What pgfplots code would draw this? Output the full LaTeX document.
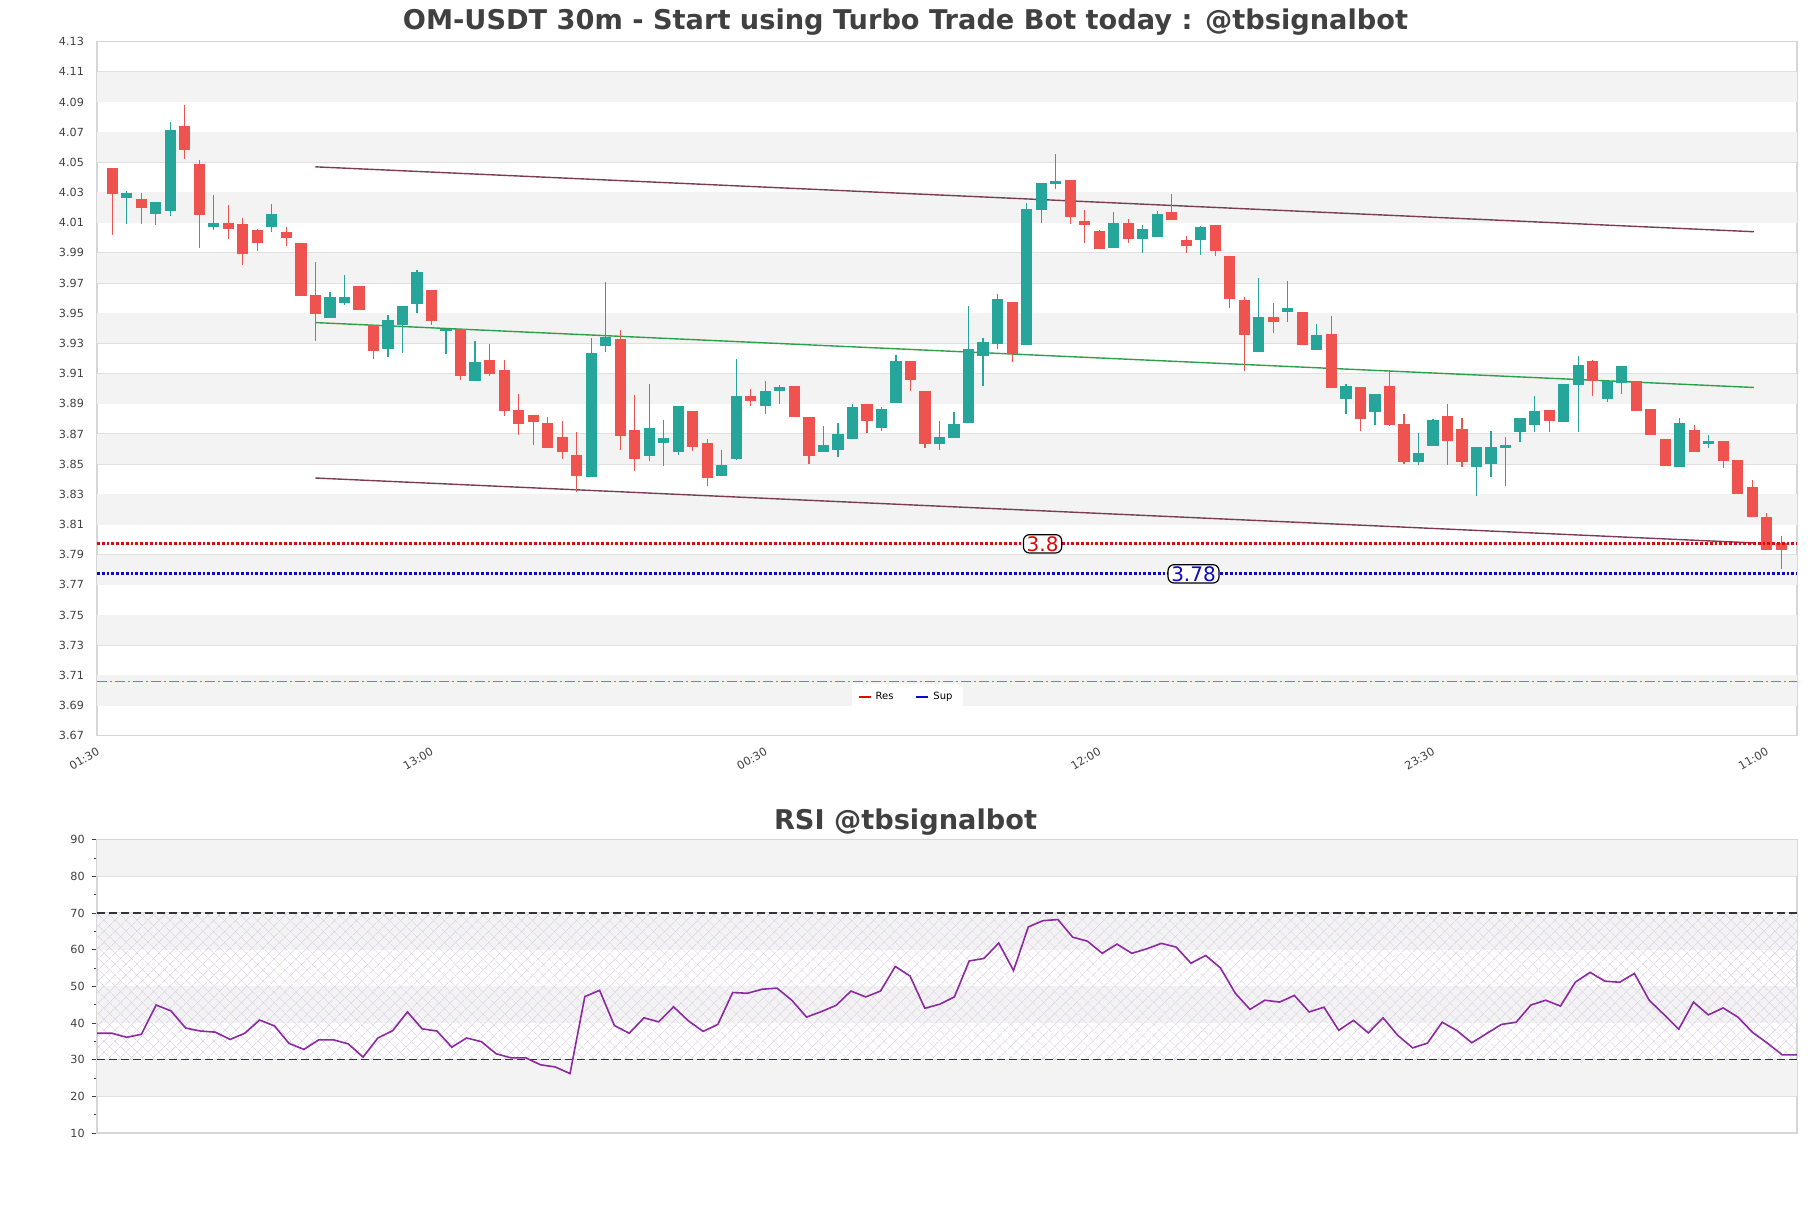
\documentclass[border=0pt]{standalone}
\usepackage{fontspec}
\setmainfont{DejaVu Sans}
\usepackage{pgfplots}
\usepackage{pgfplotstable}
\pgfplotsset{compat=1.18}
\usetikzlibrary{patterns.meta}

\definecolor{upc}{RGB}{38,166,154}
\definecolor{dnc}{RGB}{239,83,80}
\definecolor{band}{RGB}{243,243,243}
\definecolor{gridc}{RGB}{224,224,224}
\definecolor{framec}{RGB}{214,214,214}
\definecolor{txt}{RGB}{64,64,64}
\definecolor{trend}{RGB}{125,60,85}
\definecolor{midtr}{RGB}{45,160,75}
\definecolor{rsic}{RGB}{140,40,160}
\definecolor{cyanl}{RGB}{30,165,215}
\definecolor{resc}{RGB}{220,10,10}
\definecolor{supc}{RGB}{10,10,200}
\definecolor{hatchc}{RGB}{212,200,225}

\newcommand\tickfont{\fontsize{5.6}{6.5}\selectfont}

% up (green) candles: index open high low close
\pgfplotstableread{
x o h l c
2 4.0263 4.0313 4.0091 4.0294
4 4.0157 4.0238 4.0084 4.0238
5 4.0177 4.0770 4.0141 4.0717
8 4.0071 4.0285 4.0051 4.0100
12 4.0071 4.0225 4.0038 4.0159
16 3.9469 3.9643 3.9469 3.9610
17 3.9568 3.9751 3.9553 3.9610
20 3.9264 3.9489 3.9211 3.9454
21 3.9423 3.9546 3.9237 3.9546
22 3.9562 3.9784 3.9502 3.9771
24 3.9385 3.9398 3.9229 3.9398
26 3.9052 3.9319 3.9052 3.9180
34 3.8418 3.9334 3.8418 3.9235
35 3.9284 3.9705 3.9244 3.9343
38 3.8556 3.9030 3.8523 3.8739
39 3.8642 3.8792 3.8490 3.8673
40 3.8583 3.8885 3.8563 3.8885
43 3.8424 3.8594 3.8424 3.8494
44 3.8534 3.9196 3.8530 3.8951
46 3.8887 3.9050 3.8834 3.8984
47 3.8986 3.9023 3.8898 3.9008
50 3.8583 3.8750 3.8583 3.8627
51 3.8596 3.8772 3.8549 3.8700
52 3.8669 3.8900 3.8669 3.8878
54 3.8739 3.8878 3.8721 3.8865
55 3.8907 3.9222 3.8907 3.9182
58 3.8635 3.8783 3.8596 3.8679
59 3.8675 3.8847 3.8675 3.8765
60 3.8770 3.9546 3.8770 3.9262
61 3.9218 3.9334 3.9015 3.9312
62 3.9295 3.9626 3.9266 3.9592
64 3.9290 4.0232 3.9290 4.0188
65 4.0183 4.0360 4.0097 4.0360
66 4.0355 4.0558 4.0324 4.0373
70 3.9930 4.0172 3.9930 4.0100
72 3.9989 4.0082 3.9897 4.0060
73 4.0005 4.0175 4.0005 4.0159
76 3.9985 4.0078 3.9886 4.0069
80 3.9244 3.9731 3.9244 3.9473
82 3.9509 3.9711 3.9442 3.9535
84 3.9257 3.9427 3.9257 3.9354
86 3.8935 3.9034 3.8831 3.9016
88 3.8846 3.8963 3.8760 3.8963
91 3.8512 3.8706 3.8497 3.8574
92 3.8622 3.8799 3.8622 3.8792
95 3.8484 3.8612 3.8292 3.8612
96 3.8501 3.8717 3.8413 3.8611
97 3.8609 3.8680 3.8358 3.8627
98 3.8715 3.8809 3.8649 3.8805
99 3.8761 3.8951 3.8715 3.8852
101 3.8777 3.9030 3.8777 3.9030
102 3.9026 3.9215 3.8715 3.9156
104 3.8933 3.9052 3.8913 3.9052
105 3.9039 3.9149 3.8966 3.9149
109 3.8483 3.8809 3.8483 3.8772
111 3.8633 3.8695 3.8607 3.8655
}\upcandles

% down (red) candles
\pgfplotstableread{
x o h l c
1 4.0463 4.0463 4.0018 4.0291
3 4.0254 4.0294 4.0091 4.0197
6 4.0743 4.0882 4.0525 4.0580
7 4.0492 4.0516 3.9932 4.0150
9 4.0100 4.0214 3.9989 4.0058
10 4.0089 4.0128 3.9820 3.9892
11 4.0049 4.0060 3.9912 3.9965
13 4.0040 4.0069 3.9945 3.9998
14 3.9967 3.9967 3.9614 3.9614
15 3.9623 3.9842 3.9317 3.9495
18 3.9678 3.9678 3.9522 3.9522
19 3.9423 3.9423 3.9196 3.9251
23 3.9652 3.9652 3.9423 3.9450
25 3.9398 3.9398 3.9059 3.9081
27 3.9193 3.9293 3.9081 3.9096
28 3.9121 3.9187 3.8821 3.8854
29 3.8856 3.8968 3.8695 3.8768
30 3.8823 3.8823 3.8629 3.8777
31 3.8772 3.8814 3.8609 3.8609
32 3.8677 3.8783 3.8536 3.8583
33 3.8561 3.8715 3.8313 3.8424
36 3.9328 3.9387 3.8596 3.8689
37 3.8726 3.8960 3.8457 3.8536
41 3.8852 3.8852 3.8589 3.8616
42 3.8640 3.8666 3.8358 3.8411
45 3.8949 3.8997 3.8887 3.8920
48 3.9017 3.9017 3.8814 3.8814
49 3.8810 3.8810 3.8500 3.8556
53 3.8898 3.8898 3.8704 3.8788
56 3.9182 3.9182 3.8986 3.9057
57 3.8984 3.8984 3.8607 3.8635
63 3.9573 3.9573 3.9178 3.9229
67 4.0380 4.0380 4.0091 4.0137
68 4.0111 4.0183 3.9965 4.0084
69 4.0042 4.0051 3.9923 3.9923
71 4.0100 4.0122 3.9963 3.9989
74 4.0172 4.0287 4.0117 4.0117
75 3.9987 4.0009 3.9897 3.9945
77 4.0082 4.0082 3.9879 3.9910
78 3.9877 3.9877 3.9533 3.9592
79 3.9586 3.9606 3.9118 3.9354
81 3.9473 3.9566 3.9368 3.9442
83 3.9506 3.9506 3.9290 3.9290
85 3.9361 3.9480 3.9006 3.9006
87 3.9012 3.9012 3.8721 3.8798
89 3.9017 3.9125 3.8750 3.8761
90 3.8765 3.8832 3.8500 3.8512
93 3.8816 3.8898 3.8497 3.8651
94 3.8733 3.8806 3.8484 3.8513
100 3.8858 3.8858 3.8715 3.8788
103 3.9182 3.9189 3.8949 3.9052
106 3.9054 3.9054 3.8854 3.8854
107 3.8863 3.8863 3.8690 3.8690
108 3.8666 3.8666 3.8490 3.8490
110 3.8726 3.8759 3.8578 3.8583
112 3.8655 3.8655 3.8472 3.8523
113 3.8530 3.8530 3.8303 3.8303
114 3.8351 3.8397 3.8153 3.8153
115 3.8153 3.8177 3.7934 3.7934
116 3.7978 3.8027 3.7802 3.7934
}\dncandles

% RSI, one value per bar
\pgfplotstableread{
j rsi
0 37.2
1 37.2
2 36.1
3 36.9
4 44.9
5 43.3
6 38.6
7 37.8
8 37.5
9 35.5
10 37.2
11 40.8
12 39.2
13 34.4
14 32.8
15 35.4
16 35.4
17 34.3
18 30.7
19 35.9
20 37.9
21 43.0
22 38.4
23 37.8
24 33.4
25 35.9
26 34.9
27 31.6
28 30.5
29 30.5
30 28.6
31 28.0
32 26.2
33 47.2
34 48.9
35 39.3
36 37.2
37 41.4
38 40.3
39 44.4
40 40.6
41 37.7
42 39.6
43 48.3
44 48.1
45 49.2
46 49.5
47 46.2
48 41.6
49 43.1
50 44.8
51 48.7
52 47.1
53 48.7
54 55.4
55 52.8
56 44.0
57 45.1
58 47.1
59 56.9
60 57.6
61 61.8
62 54.3
63 66.2
64 67.9
65 68.2
66 63.4
67 62.3
68 59.0
69 61.5
70 59.0
71 60.2
72 61.7
73 60.7
74 56.3
75 58.4
76 55.0
77 48.1
78 43.7
79 46.2
80 45.7
81 47.5
82 43.0
83 44.3
84 38.0
85 40.7
86 37.3
87 41.4
88 36.6
89 33.2
90 34.5
91 40.2
92 37.9
93 34.6
94 37.1
95 39.6
96 40.2
97 44.9
98 46.2
99 44.6
100 51.1
101 53.8
102 51.4
103 51.1
104 53.5
105 46.2
106 42.3
107 38.3
108 45.7
109 42.2
110 44.1
111 41.6
112 37.4
113 34.5
114 31.3
115 31.3
}\rsidata

\pgfplotsset{
  wick/.style={only marks, mark=*, mark size=0pt, mark options={draw=none, fill=none}, forget plot,
    error bars/.cd, y dir=both, y explicit, error mark=none,
    error bar style={line width=0.6pt, #1}},
  body/.style={only marks, mark=*, mark size=0pt, mark options={draw=none, fill=none}, forget plot,
    error bars/.cd, y dir=both, y explicit, error mark=none,
    error bar style={line width=5.6pt, #1}},
}

\begin{document}
\begin{tikzpicture}
\path (0,0) rectangle (905.5pt,604pt);

\node[font=\fontsize{13.6}{15}\selectfont\bfseries, text=txt] at (452.75pt,593pt)
  {OM-USDT 30m - Start using Turbo Trade Bot today : @tbsignalbot};

\begin{axis}[
    set layers,
    at={(48.5pt,236.1pt)}, anchor=south west,
    scale only axis, width=850pt, height=347.1pt,
    xmin=-0.05, xmax=117.08,
    ymin=3.67, ymax=4.13,
    ytick={3.67,3.69,3.71,3.73,3.75,3.77,3.79,3.81,3.83,3.85,3.87,3.89,3.91,3.93,3.95,3.97,3.99,4.01,4.03,4.05,4.07,4.09,4.11,4.13},
    xtick={0,23,46,69,92,115},
    xticklabels={01:30,13:00,00:30,12:00,23:30,11:00},
    major tick length=0pt,
    ymajorgrids, grid style={gridc, line width=0.5pt},
    axis line style={framec, line width=0.6pt},
    tick label style={font=\tickfont, text=txt},
    yticklabel style={/pgf/number format/.cd, fixed, fixed zerofill, precision=2, assume math mode=true},
    yticklabel shift=3pt,
    xticklabel style={rotate=30, anchor=north east, yshift=-1pt},
    legend style={at={(0.4765,0.0558)}, anchor=center, draw=none, fill=white,
      font=\fontsize{5}{6}\selectfont, legend columns=2,
      /tikz/every even column/.append style={column sep=9pt}},
    legend image code/.code={\draw[#1, solid, line width=1pt] (0pt,0pt) -- (6pt,0pt);},
]
% alternating background bands
\fill[band, on layer=axis background] (axis cs:-1,4.09) rectangle (axis cs:120,4.11);
\fill[band, on layer=axis background] (axis cs:-1,4.05) rectangle (axis cs:120,4.07);
\fill[band, on layer=axis background] (axis cs:-1,4.01) rectangle (axis cs:120,4.03);
\fill[band, on layer=axis background] (axis cs:-1,3.97) rectangle (axis cs:120,3.99);
\fill[band, on layer=axis background] (axis cs:-1,3.93) rectangle (axis cs:120,3.95);
\fill[band, on layer=axis background] (axis cs:-1,3.89) rectangle (axis cs:120,3.91);
\fill[band, on layer=axis background] (axis cs:-1,3.85) rectangle (axis cs:120,3.87);
\fill[band, on layer=axis background] (axis cs:-1,3.81) rectangle (axis cs:120,3.83);
\fill[band, on layer=axis background] (axis cs:-1,3.77) rectangle (axis cs:120,3.79);
\fill[band, on layer=axis background] (axis cs:-1,3.73) rectangle (axis cs:120,3.75);
\fill[band, on layer=axis background] (axis cs:-1,3.69) rectangle (axis cs:120,3.71);

% channel lines
\addplot[trend, line width=0.7pt, forget plot] coordinates {(15,4.0470) (114.1,4.0040)};
\addplot[midtr, line width=0.7pt, forget plot] coordinates {(15,3.9438) (114.1,3.9008)};
\addplot[trend, line width=0.7pt, forget plot] coordinates {(15,3.8408) (114.1,3.7978)};

% candles
\addplot[wick=upc] table[x=x, y expr={(\thisrow{h}+\thisrow{l})/2}, y error expr={(\thisrow{h}-\thisrow{l})/2}] {\upcandles};
\addplot[wick=dnc] table[x=x, y expr={(\thisrow{h}+\thisrow{l})/2}, y error expr={(\thisrow{h}-\thisrow{l})/2}] {\dncandles};
\addplot[body=upc] table[x=x, y expr={(\thisrow{o}+\thisrow{c})/2}, y error expr={max(abs(\thisrow{c}-\thisrow{o})/2,0.0005)}] {\upcandles};
\addplot[body=dnc] table[x=x, y expr={(\thisrow{o}+\thisrow{c})/2}, y error expr={max(abs(\thisrow{c}-\thisrow{o})/2,0.0005)}] {\dncandles};

% level lines
\addplot[cyanl, line width=0.8pt, dash pattern=on 5pt off 1.5pt on 1pt off 1.5pt, forget plot] coordinates {(-0.05,3.706) (117.08,3.706)};
\addplot[resc, line width=1.4pt, densely dotted] coordinates {(-0.05,3.7972) (117.08,3.7972)};
\addlegendentry{Res}
\addplot[supc, line width=1.4pt, densely dotted] coordinates {(-0.05,3.7773) (117.08,3.7773)};
\addlegendentry{Sup}

\node[draw=black, fill=white, rounded corners=3pt, line width=0.6pt, inner xsep=1.6pt, inner ysep=0.8pt,
  text=resc, font=\fontsize{10}{10}\selectfont] at (axis cs:65.1,3.7972) {3.8};
\node[draw=black, fill=white, rounded corners=3pt, line width=0.6pt, inner xsep=1.6pt, inner ysep=0.8pt,
  text=supc, font=\fontsize{10}{10}\selectfont] at (axis cs:75.5,3.7773) {3.78};
\end{axis}

\node[font=\fontsize{13.6}{15}\selectfont\bfseries, text=txt] at (452.75pt,193pt)
  {RSI @tbsignalbot};

\begin{axis}[
    set layers,
    at={(48.5pt,37.5pt)}, anchor=south west,
    scale only axis, width=850pt, height=146.7pt,
    xmin=0, xmax=115,
    ymin=10, ymax=90,
    xtick=\empty,
    ytick={10,20,...,90},
    minor y tick num=1,
    ytick pos=left,
    tick align=outside,
    major tick length=2.6pt, minor tick length=1.6pt,
    ytick style={txt, line width=0.4pt},
    ymajorgrids, grid style={gridc, line width=0.5pt},
    axis line style={framec, line width=0.6pt},
    tick label style={font=\tickfont, text=txt},
    yticklabel style={/pgf/number format/assume math mode=true},
]
\fill[band, on layer=axis background] (axis cs:-1,80) rectangle (axis cs:120,90);
\fill[band, on layer=axis background] (axis cs:-1,60) rectangle (axis cs:120,70);
\fill[band, on layer=axis background] (axis cs:-1,40) rectangle (axis cs:120,50);
\fill[band, on layer=axis background] (axis cs:-1,20) rectangle (axis cs:120,30);
\fill[on layer=axis background, pattern={Lines[angle=45,distance=4pt,line width=0.3pt]}, pattern color=hatchc]
  (axis cs:-1,30) rectangle (axis cs:120,70);
\fill[on layer=axis background, pattern={Lines[angle=-45,distance=4pt,line width=0.3pt]}, pattern color=hatchc]
  (axis cs:-1,30) rectangle (axis cs:120,70);

\addplot[black!80, line width=0.6pt, dash pattern=on 4pt off 2pt] coordinates {(0,70) (115,70)};
\addplot[black!80, line width=0.6pt, dash pattern=on 4pt off 2pt] coordinates {(0,30) (115,30)};
\addplot[rsic, line width=0.8pt] table[x=j, y=rsi] {\rsidata};
\end{axis}
\end{tikzpicture}
\end{document}
